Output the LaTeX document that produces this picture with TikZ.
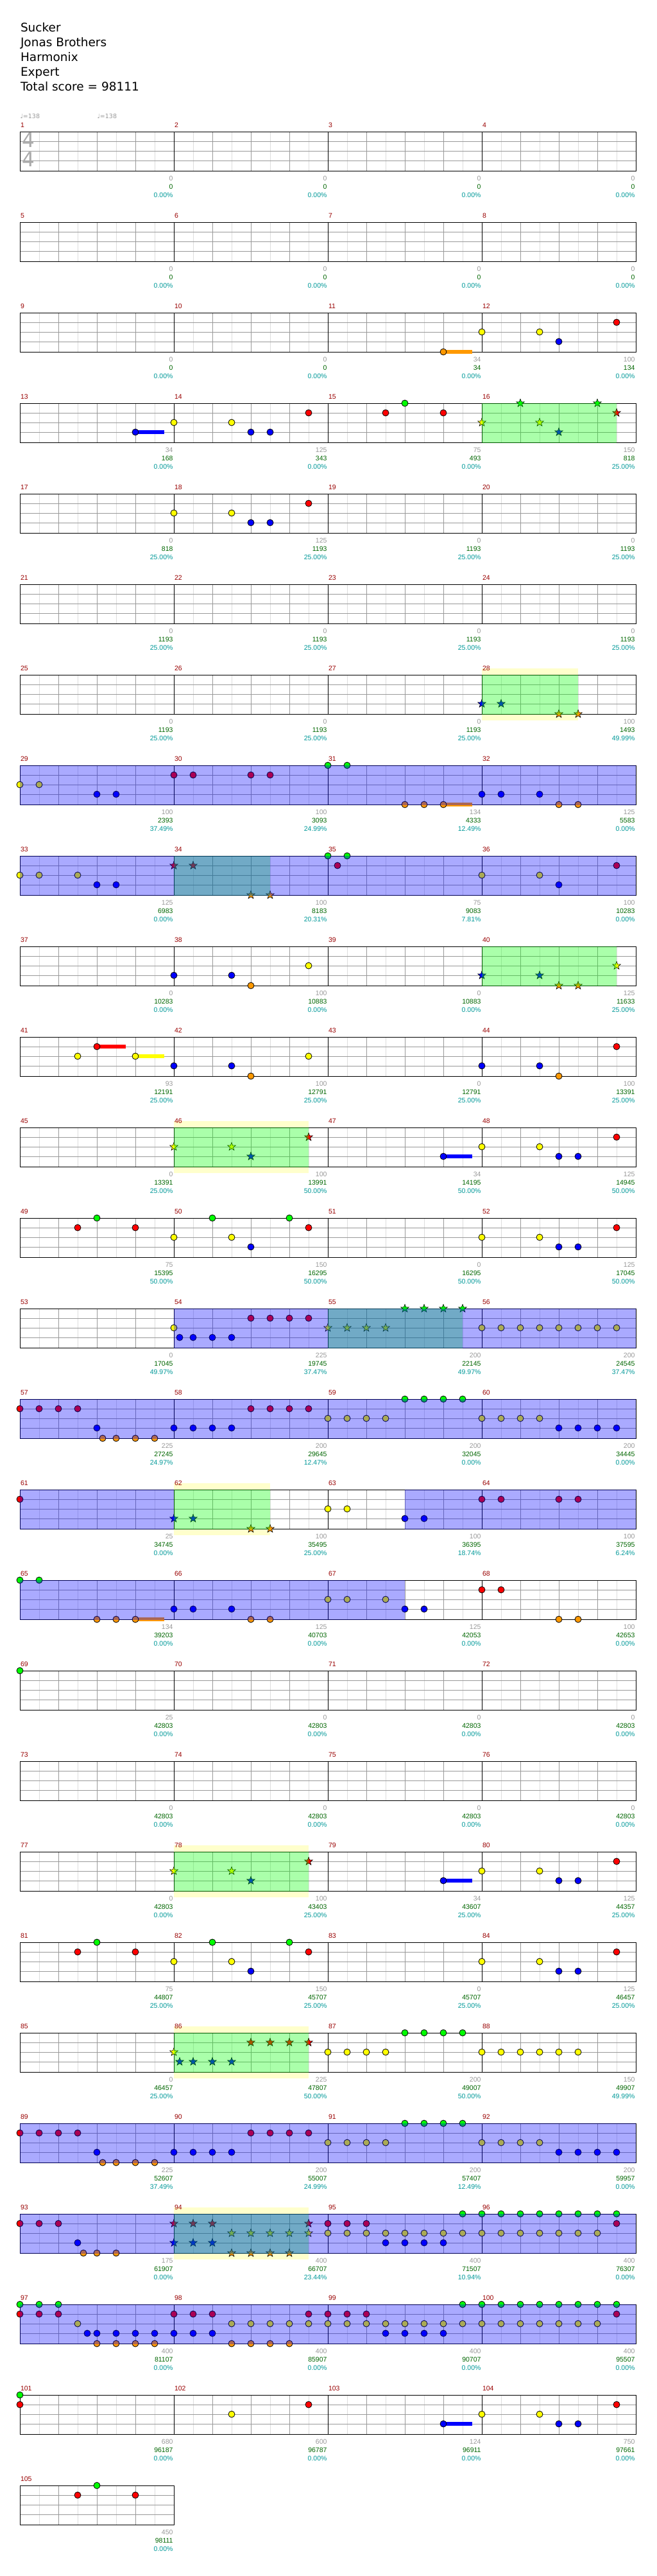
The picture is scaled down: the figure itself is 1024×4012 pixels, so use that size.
\documentclass[tikz,border=0pt]{standalone}
\usepackage{fontspec}
\setmainfont{DejaVu Sans}
\newfontfamily\numfont{Liberation Sans}
\definecolor{ngreen}{RGB}{0,255,0}
\definecolor{nred}{RGB}{255,0,0}
\definecolor{nyellow}{RGB}{255,255,0}
\definecolor{nblue}{RGB}{0,0,255}
\definecolor{norange}{RGB}{255,153,0}
\definecolor{gridd}{RGB}{153,153,153}
\definecolor{gridl}{RGB}{221,221,221}
\definecolor{mlabc}{RGB}{153,0,0}
\definecolor{ptsc}{RGB}{153,153,153}
\definecolor{scc}{RGB}{0,102,0}
\definecolor{pctc}{RGB}{0,153,153}
\definecolor{bandc}{RGB}{255,255,204}
\definecolor{tsc}{RGB}{170,170,170}

\newcommand\laneY[1]{\ifcase#1 0\or 15\or 30\or 45\or 61\fi}
\newcommand\laneC[1]{\ifcase#1 ngreen\or nred\or nyellow\or nblue\or norange\fi}

\newcommand\nt[3]{% row, tick, lane
  \pgfmathsetmacro\nx{31+15*#2}%
  \edef\ly{\laneY{#3}}%
  \pgfmathsetmacro\ny{205+141*(#1-1)+\ly}%
  \edef\nc{\laneC{#3}}%
  \filldraw[notestyle, fill=\nc] (\nx,\ny) circle[radius=5];}
\newcommand\st[3]{% row, tick, lane
  \pgfmathsetmacro\nx{31+15*#2}%
  \edef\ly{\laneY{#3}}%
  \pgfmathsetmacro\ny{205+141*(#1-1)+\ly}%
  \edef\nc{\laneC{#3}}%
  \filldraw[starstyle, fill=\nc] (\nx,\ny) +(90:6.6pt) -- +(126:2.7pt) -- +(162:6.6pt) -- +(198:2.7pt) -- +(234:6.6pt) -- +(270:2.7pt) -- +(306:6.6pt) -- +(342:2.7pt) -- +(18:6.6pt) -- +(54:2.7pt) -- cycle;}
\newcommand\notes[2]{\foreach \t/\l in {#2} {\nt{#1}{\t}{\l}}}
\newcommand\stars[2]{\foreach \t/\l in {#2} {\st{#1}{\t}{\l}}}
\newcommand\sus[4]{% row, t1, t2, lane
  \pgfmathsetmacro\xa{31+15*#2}%
  \pgfmathsetmacro\xb{31+15*#3}%
  \edef\ly{\laneY{#4}}%
  \pgfmathsetmacro\ny{205+141*(#1-1)+\ly}%
  \edef\nc{\laneC{#4}}%
  \fill[\nc] (\xa,\ny-3.3) rectangle (\xb,\ny+3.3);}
\newcommand\ovg[3]{\pgfmathsetmacro\yt{205+141*(#1-1)}%
  \fill[ngreen, fill opacity=0.333] (31+15*#2,\yt-0.5) rectangle (31+15*#3,\yt+61.5);}
\newcommand\ovb[3]{\pgfmathsetmacro\yt{205+141*(#1-1)}%
  \fill[nblue, fill opacity=0.333] (31+15*#2,\yt-0.5) rectangle (31+15*#3,\yt+61.5);}
\newcommand\band[3]{\pgfmathsetmacro\yt{205+141*(#1-1)}%
  \fill[bandc] (31+15*#2,\yt-10) rectangle (31+15*#3,\yt+71);}
\newcommand\staff[2]{% row, number of measures
  \pgfmathsetmacro\yt{205+141*(#1-1)}%
  \pgfmathsetmacro\xe{31+240*#2}%
  \pgfmathtruncatemacro\nb{4*#2}%
  \fill[white] (31,\yt) rectangle (\xe,\yt+61);
  \foreach \k in {1,...,\nb} {\draw[gridl] (1+60*\k,\yt) -- ++(0,61);}
  \foreach \h in {15,30,45} {\draw[gridd] (31,\yt+\h) -- (\xe,\yt+\h);}
  \foreach \k in {1,...,\nb} {\draw[gridd] (31+60*\k,\yt) -- ++(0,61);}
  \foreach \k in {1,...,#2} {\draw[black] (31+240*\k,\yt) -- ++(0,61);}
  \draw[black] (31,\yt) rectangle (\xe,\yt+61);}
\newcommand\mstats[3]{% row, first measure, list pts/score/pct
  \pgfmathsetmacro\yt{205+141*(#1-1)}%
  \foreach \a/\b/\c [count=\j from 0] in {#3} {
    \pgfmathtruncatemacro\mm{#2+\j}
    \pgfmathsetmacro\mx{31.5+240*\j}
    \pgfmathsetmacro\me{30+240*(\j+1)}
    \node[mlab] (mn-\mm) at (\mx,\yt-10.5) {\mm};
    \node[ptsn] (pts-\mm) at (\me,\yt+73) {\a};
    \node[scn] (sc-\mm) at (\me,\yt+85.7) {\b};
    \node[pctn] (pct-\mm) at (\me,\yt+98.8) {\c\%};
  }}

\begin{document}
\begin{tikzpicture}[x=1pt,y=-1pt,
  line width=1pt,
  notestyle/.style={draw=black, line width=0.8pt},
  starstyle/.style={draw=black, line width=0.6pt, line join=miter},
  numf/.style={inner sep=0pt, font=\numfont\fontsize{10.5}{12}\selectfont},
  mlab/.style={numf, anchor=west, text=mlabc},
  ptsn/.style={numf, anchor=east, text=ptsc},
  scn/.style={numf, anchor=east, text=scc},
  pctn/.style={numf, anchor=east, text=pctc},
  head/.style={anchor=base west, inner sep=0pt, font=\fontsize{18.5}{22}\selectfont, text=black},
  tempo/.style={anchor=west, inner sep=0pt, font=\fontsize{9.5}{11}\selectfont, text=ptsc},
  tsig/.style={inner sep=0pt, font=\fontsize{31}{31}\selectfont, text=tsc}]
\useasboundingbox[fill=white] (0,0) rectangle (1024,4012);

% header
\node[head] (title) at (31.5,49.3) {Sucker};
\node[head] (artist) at (31.5,72.3) {Jonas Brothers};
\node[head] (charter) at (31.5,95.3) {Harmonix};
\node[head] (level) at (31.5,118.3) {Expert};
\node[head] (total) at (31.5,141.6) {Total score = 98111};
\node[tempo] (tempoA) at (31,181) {♩=138};
\node[tempo] (tempoB) at (151,181) {♩=138};

% row 1
\staff{1}{4}
\node[tsig] (tsA) at (44.5,218.5) {4};
\node[tsig] (tsB) at (44.5,248.5) {4};
\mstats{1}{1}{0/0/0.00, 0/0/0.00, 0/0/0.00, 0/0/0.00}

% row 2
\staff{2}{4}
\mstats{2}{5}{0/0/0.00, 0/0/0.00, 0/0/0.00, 0/0/0.00}

% row 3
\staff{3}{4}
\sus{3}{44}{47}{4}
\notes{3}{44/4, 48/2, 54/2, 56/3, 62/1}
\mstats{3}{9}{0/0/0.00, 0/0/0.00, 34/34/0.00, 100/134/0.00}

% row 4
\staff{4}{4}
\sus{4}{12}{15}{3}
\notes{4}{12/3, 16/2, 22/2, 24/3, 26/3, 30/1, 38/1, 40/0, 44/1}
\stars{4}{48/2, 52/0, 54/2, 56/3, 60/0, 62/1}
\ovg{4}{48}{62}
\mstats{4}{13}{34/168/0.00, 125/343/0.00, 75/493/0.00, 150/818/25.00}

% row 5
\staff{5}{4}
\notes{5}{16/2, 22/2, 24/3, 26/3, 30/1}
\mstats{5}{17}{0/818/25.00, 125/1193/25.00, 0/1193/25.00, 0/1193/25.00}

% row 6
\staff{6}{4}
\mstats{6}{21}{0/1193/25.00, 0/1193/25.00, 0/1193/25.00, 0/1193/25.00}

% row 7
\band{7}{48}{58}
\staff{7}{4}
\stars{7}{48/3, 50/3, 56/4, 58/4}
\ovg{7}{48}{58}
\mstats{7}{25}{0/1193/25.00, 0/1193/25.00, 0/1193/25.00, 100/1493/49.99}

% row 8
\staff{8}{4}
\sus{8}{44}{47}{4}
\notes{8}{0/2, 2/2, 8/3, 10/3, 16/1, 18/1, 24/1, 26/1, 32/0, 34/0, 40/4, 42/4, 44/4, 48/3, 50/3, 54/3, 56/4, 58/4}
\ovb{8}{0}{64}
\mstats{8}{29}{100/2393/37.49, 100/3093/24.99, 134/4333/12.49, 125/5583/0.00}

% row 9
\staff{9}{4}
\notes{9}{0/2, 2/2, 6/2, 8/3, 10/3, 32/0, 33/1, 34/0, 48/2, 54/2, 56/3, 62/1}
\stars{9}{16/1, 18/1, 24/4, 26/4}
\ovg{9}{16}{26}
\ovb{9}{0}{64}
\mstats{9}{33}{125/6983/0.00, 100/8183/20.31, 75/9083/7.81, 100/10283/0.00}

% row 10
\staff{10}{4}
\notes{10}{16/3, 22/3, 24/4, 30/2}
\stars{10}{48/3, 54/3, 56/4, 58/4, 62/2}
\ovg{10}{48}{62}
\mstats{10}{37}{0/10283/0.00, 100/10883/0.00, 0/10883/0.00, 125/11633/25.00}

% row 11
\staff{11}{4}
\sus{11}{8}{11}{1}
\sus{11}{12}{15}{2}
\notes{11}{6/2, 8/1, 12/2, 16/3, 22/3, 24/4, 30/2, 48/3, 54/3, 56/4, 62/1}
\mstats{11}{41}{93/12191/25.00, 100/12791/25.00, 0/12791/25.00, 100/13391/25.00}

% row 12
\band{12}{16}{30}
\staff{12}{4}
\stars{12}{16/2, 22/2, 24/3, 30/1}
\ovg{12}{16}{30}
\sus{12}{44}{47}{3}
\notes{12}{44/3, 48/2, 54/2, 56/3, 58/3, 62/1}
\mstats{12}{45}{0/13391/25.00, 100/13991/50.00, 34/14195/50.00, 125/14945/50.00}

% row 13
\staff{13}{4}
\notes{13}{6/1, 8/0, 12/1, 16/2, 20/0, 22/2, 24/3, 28/0, 30/1, 48/2, 54/2, 56/3, 58/3, 62/1}
\mstats{13}{49}{75/15395/50.00, 150/16295/50.00, 0/16295/50.00, 125/17045/50.00}

% row 14
\staff{14}{4}
\notes{14}{16/2, 16.6/3, 18/3, 20/3, 22/3, 24/1, 26/1, 28/1, 30/1, 48/2, 50/2, 52/2, 54/2, 56/2, 58/2, 60/2, 62/2}
\stars{14}{32/2, 34/2, 36/2, 38/2, 40/0, 42/0, 44/0, 46/0}
\ovg{14}{32}{46}
\ovb{14}{16}{64}
\mstats{14}{53}{0/17045/49.97, 225/19745/37.47, 200/22145/49.97, 200/24545/37.47}

% row 15
\staff{15}{4}
\notes{15}{0/1, 2/1, 4/1, 6/1, 8/3, 8.6/4, 10/4, 12/4, 14/4, 16/3, 18/3, 20/3, 22/3, 24/1, 26/1, 28/1, 30/1, 32/2, 34/2, 36/2, 38/2, 40/0, 42/0, 44/0, 46/0, 48/2, 50/2, 52/2, 54/2, 56/3, 58/3, 60/3, 62/3}
\ovb{15}{0}{64}
\mstats{15}{57}{225/27245/24.97, 200/29645/12.47, 200/32045/0.00, 200/34445/0.00}

% row 16
\band{16}{16}{26}
\staff{16}{4}
\notes{16}{0/1, 32/2, 34/2, 40/3, 42/3, 48/1, 50/1, 56/1, 58/1}
\stars{16}{16/3, 18/3, 24/4, 26/4}
\ovg{16}{16}{26}
\ovb{16}{0}{16}
\ovb{16}{40}{64}
\mstats{16}{61}{25/34745/0.00, 100/35495/25.00, 100/36395/18.74, 100/37595/6.24}

% row 17
\staff{17}{4}
\sus{17}{12}{15}{4}
\notes{17}{0/0, 2/0, 8/4, 10/4, 12/4, 16/3, 18/3, 22/3, 24/4, 26/4, 32/2, 34/2, 38/2, 40/3, 42/3, 48/1, 50/1, 56/4, 58/4}
\ovb{17}{0}{40}
\mstats{17}{65}{134/39203/0.00, 125/40703/0.00, 125/42053/0.00, 100/42653/0.00}

% row 18
\staff{18}{4}
\notes{18}{0/0}
\mstats{18}{69}{25/42803/0.00, 0/42803/0.00, 0/42803/0.00, 0/42803/0.00}

% row 19
\staff{19}{4}
\mstats{19}{73}{0/42803/0.00, 0/42803/0.00, 0/42803/0.00, 0/42803/0.00}

% row 20
\band{20}{16}{30}
\staff{20}{4}
\stars{20}{16/2, 22/2, 24/3, 30/1}
\ovg{20}{16}{30}
\sus{20}{44}{47}{3}
\notes{20}{44/3, 48/2, 54/2, 56/3, 58/3, 62/1}
\mstats{20}{77}{0/42803/0.00, 100/43403/25.00, 34/43607/25.00, 125/44357/25.00}

% row 21
\staff{21}{4}
\notes{21}{6/1, 8/0, 12/1, 16/2, 20/0, 22/2, 24/3, 28/0, 30/1, 48/2, 54/2, 56/3, 58/3, 62/1}
\mstats{21}{81}{75/44807/25.00, 150/45707/25.00, 0/45707/25.00, 125/46457/25.00}

% row 22
\band{22}{16}{30}
\staff{22}{4}
\stars{22}{16/2, 16.6/3, 18/3, 20/3, 22/3, 24/1, 26/1, 28/1, 30/1}
\ovg{22}{16}{30}
\notes{22}{32/2, 34/2, 36/2, 38/2, 40/0, 42/0, 44/0, 46/0, 48/2, 50/2, 52/2, 54/2, 56/2, 58/2}
\mstats{22}{85}{0/46457/25.00, 225/47807/50.00, 200/49007/50.00, 150/49907/49.99}

% row 23
\staff{23}{4}
\notes{23}{0/1, 2/1, 4/1, 6/1, 8/3, 8.6/4, 10/4, 12/4, 14/4, 16/3, 18/3, 20/3, 22/3, 24/1, 26/1, 28/1, 30/1, 32/2, 34/2, 36/2, 38/2, 40/0, 42/0, 44/0, 46/0, 48/2, 50/2, 52/2, 54/2, 56/3, 58/3, 60/3, 62/3}
\ovb{23}{0}{64}
\mstats{23}{89}{225/52607/37.49, 200/55007/24.99, 200/57407/12.49, 200/59957/0.00}

% row 24
\band{24}{16}{30}
\staff{24}{4}
\notes{24}{0/1, 2/1, 4/1, 6/3, 6.6/4, 8/4, 10/4, 32/1, 34/1, 36/1, 32/2, 34/2, 36/2, 38/2, 40/2, 42/2, 44/2, 46/2, 48/2, 50/2, 52/2, 54/2, 56/2, 58/2, 60/2, 38/3, 40/3, 42/3, 44/3, 46/0, 48/0, 50/0, 52/0, 54/0, 56/0, 58/0, 60/0, 62/0, 62/1}
\stars{24}{16/1, 18/1, 20/1, 30/1, 16/3, 18/3, 20/3, 22/2, 24/2, 26/2, 28/2, 30/2, 22/4, 24/4, 26/4, 28/4}
\ovg{24}{16}{30}
\ovb{24}{0}{64}
\mstats{24}{93}{175/61907/0.00, 400/66707/23.44, 400/71507/10.94, 400/76307/0.00}

% row 25
\staff{25}{4}
\notes{25}{0/0, 2/0, 4/0, 0/1, 2/1, 4/1, 6/2, 7/3, 8/3, 10/3, 12/3, 14/3, 16/3, 18/3, 20/3, 8/4, 10/4, 12/4, 14/4, 16/1, 18/1, 20/1, 22/2, 24/2, 26/2, 28/2, 30/2, 32/2, 34/2, 36/2, 38/2, 40/2, 42/2, 44/2, 46/2, 48/2, 50/2, 52/2, 54/2, 56/2, 58/2, 60/2, 22/4, 24/4, 26/4, 28/4, 30/1, 32/1, 34/1, 36/1, 38/3, 40/3, 42/3, 44/3, 46/0, 48/0, 50/0, 52/0, 54/0, 56/0, 58/0, 60/0, 62/0, 62/1}
\ovb{25}{0}{64}
\mstats{25}{97}{400/81107/0.00, 400/85907/0.00, 400/90707/0.00, 400/95507/0.00}

% row 26
\staff{26}{4}
\sus{26}{44}{47}{3}
\notes{26}{0/0, 0/1, 22/2, 30/1, 44/3, 48/2, 54/2, 56/3, 58/3, 62/1}
\mstats{26}{101}{680/96187/0.00, 600/96787/0.00, 124/96911/0.00, 750/97661/0.00}

% row 27
\staff{27}{1}
\notes{27}{6/1, 8/0, 12/1}
\mstats{27}{105}{450/98111/0.00}
\end{tikzpicture}
\end{document}
